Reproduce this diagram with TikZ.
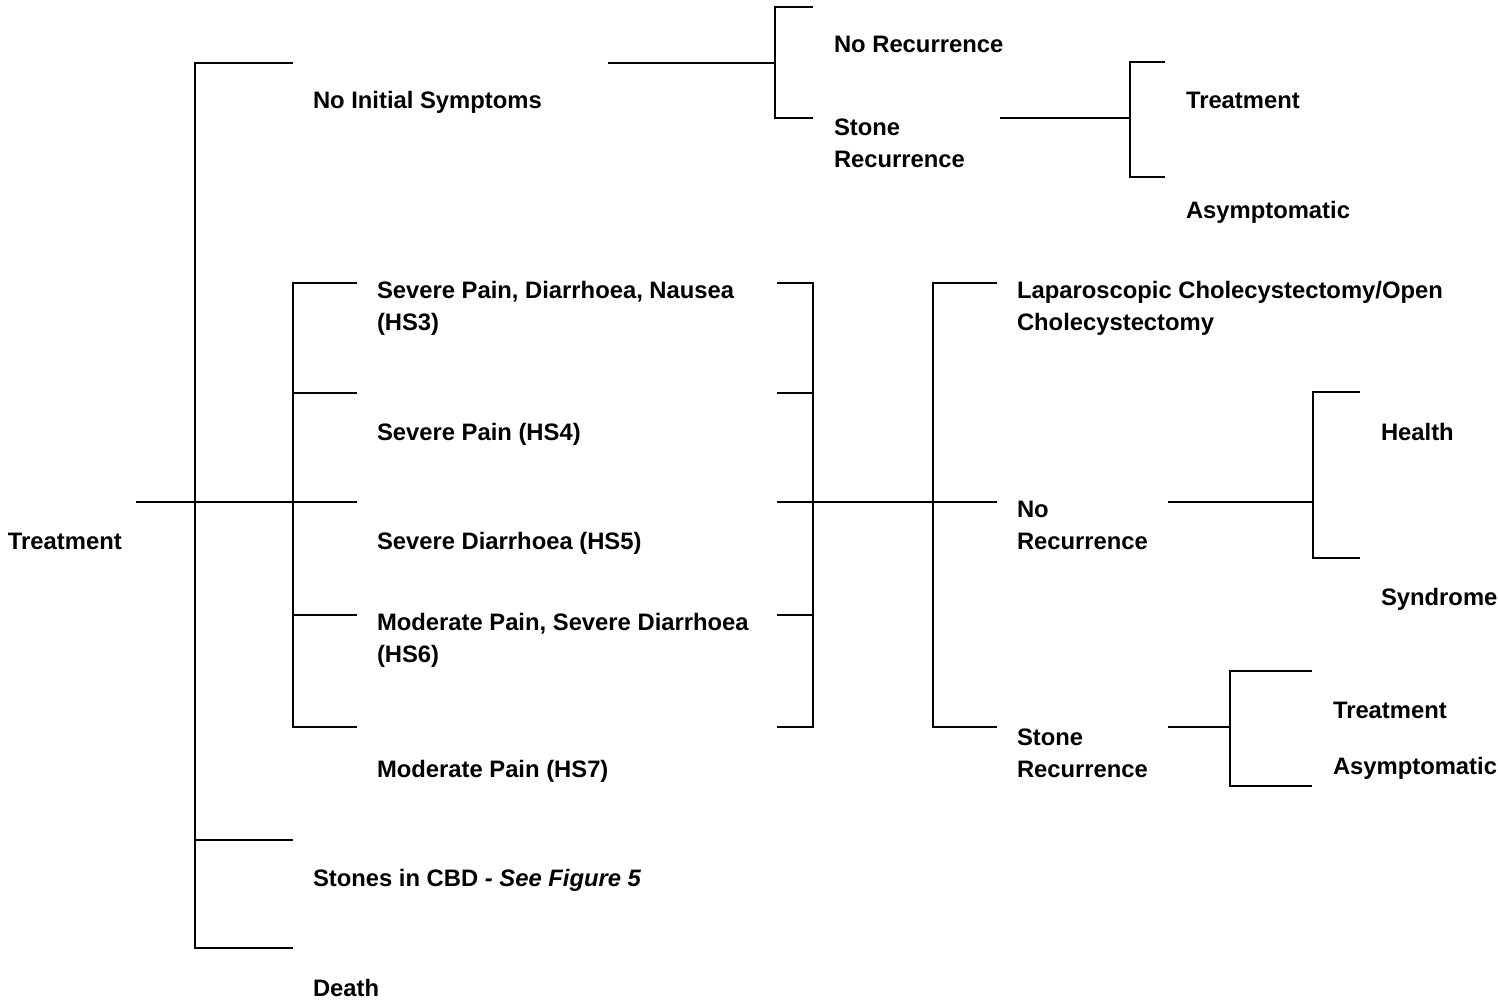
\documentclass[tikz,border=0pt]{standalone}
\usepackage{fontspec}
\setmainfont{Liberation Sans}
\usetikzlibrary{positioning}

\begin{document}
\begin{tikzpicture}[x=0.5pt,y=-0.5pt,line width=1pt,
    lbl/.style={font=\fontsize{11.9}{16}\selectfont\bfseries,inner sep=0pt,
                anchor=base west,align=left}]
  \useasboundingbox (0,0) rectangle (1498,1003);
  % labels
  \node[lbl] (root) at (7,549) {Treatment};
  \node[lbl] (nis) at (312,108) {No Initial Symptoms};
  \node[lbl] (norec) at (833,52) {No Recurrence};
  \node[lbl] (strec) at (833,167) {Stone\\Recurrence};
  \node[lbl] (trt) at (1185,108) {Treatment};
  \node[lbl] (asym) at (1185,218) {Asymptomatic};
  \node[lbl] (hs3) at (376,330) {Severe Pain, Diarrhoea, Nausea\\(HS3)};
  \node[lbl] (hs4) at (376,440) {Severe Pain (HS4)};
  \node[lbl] (hs5) at (376,549) {Severe Diarrhoea (HS5)};
  \node[lbl] (hs6) at (376,662) {Moderate Pain, Severe Diarrhoea\\(HS6)};
  \node[lbl] (hs7) at (376,777) {Moderate Pain (HS7)};
  \node[lbl] (cbd) at (312,886) {Stones in CBD \textit{- See Figure 5}};
  \node[lbl] (death) at (312,996) {Death};
  \node[lbl] (chol) at (1016,330) {Laparoscopic Cholecystectomy/Open\\Cholecystectomy};
  \node[lbl] (norec2) at (1016,549) {No\\Recurrence};
  \node[lbl] (strec2) at (1016,777) {Stone\\Recurrence};
  \node[lbl] (health) at (1380,440) {Health};
  \node[lbl] (synd) at (1380,605) {Syndrome};
  \node[lbl] (trt2) at (1332,718) {Treatment};
  \node[lbl] (asym2) at (1332,774) {Asymptomatic};
  % first split
  \coordinate (rootR) at (136,502);
  \foreach \n/\y in {a/63,b/502,c/840,d/948} {
    \coordinate (l1\n) at (195,\y);
    \coordinate (t1\n) at (293,\y);
  }
  \draw (t1a) -- (l1a) -- (l1d) -- (t1d);
  \draw (rootR) -- (t1b);
  \draw (l1c) -- (t1c);
  % symptom states
  \foreach \n/\y in {a/283,b/393,c/502,d/615,e/727} {
    \coordinate (l2\n) at (293,\y);
    \coordinate (t2\n) at (357,\y);
    \coordinate (u2\n) at (777,\y);
    \coordinate (v2\n) at (813,\y);
  }
  \draw (t2a) -- (l2a) -- (l2e) -- (t2e);
  \draw (u2a) -- (v2a) -- (v2e) -- (u2e);
  \foreach \n in {b,c,d} {
    \draw (l2\n) -- (t2\n);
    \draw (u2\n) -- (v2\n);
  }
  % surgery outcomes
  \foreach \n/\y in {a/283,b/502,c/727} {
    \coordinate (l3\n) at (933,\y);
    \coordinate (t3\n) at (997,\y);
  }
  \draw (v2c) -- (t3b);
  \draw (t3a) -- (l3a) -- (l3c) -- (t3c);
  % no initial symptoms
  \coordinate (nisR) at (608,63);
  \coordinate (l4a) at (775,7);   \coordinate (t4a) at (813,7);
  \coordinate (l4b) at (775,118); \coordinate (t4b) at (813,118);
  \coordinate (l4m) at (775,63);
  \draw (nisR) -- (l4m);
  \draw (t4a) -- (l4a) -- (l4b) -- (t4b);
  \coordinate (strecR) at (1000,118);
  \coordinate (l5a) at (1130,62);  \coordinate (t5a) at (1165,62);
  \coordinate (l5b) at (1130,177); \coordinate (t5b) at (1165,177);
  \coordinate (l5m) at (1130,118);
  \draw (strecR) -- (l5m);
  \draw (t5a) -- (l5a) -- (l5b) -- (t5b);
  % no recurrence after surgery
  \coordinate (norecR) at (1168,502);
  \coordinate (l6a) at (1313,392); \coordinate (t6a) at (1360,392);
  \coordinate (l6b) at (1313,558); \coordinate (t6b) at (1360,558);
  \coordinate (l6m) at (1313,502);
  \draw (norecR) -- (l6m);
  \draw (t6a) -- (l6a) -- (l6b) -- (t6b);
  % stone recurrence after surgery
  \coordinate (strecR2) at (1168,727);
  \coordinate (l7a) at (1230,671); \coordinate (t7a) at (1312,671);
  \coordinate (l7b) at (1230,786); \coordinate (t7b) at (1312,786);
  \coordinate (l7m) at (1230,727);
  \draw (strecR2) -- (l7m);
  \draw (t7a) -- (l7a) -- (l7b) -- (t7b);
\end{tikzpicture}
\end{document}
